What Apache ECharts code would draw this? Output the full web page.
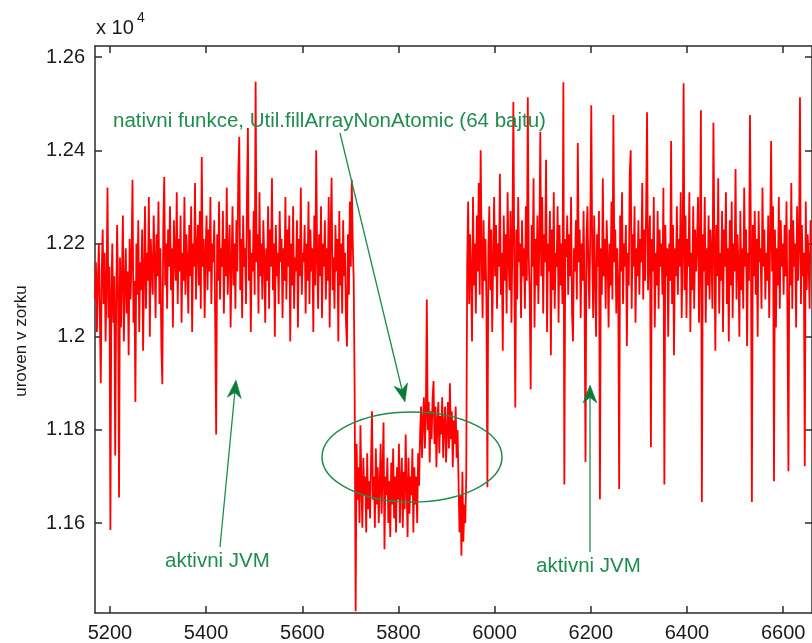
<!DOCTYPE html>
<html>
<head>
<meta charset="utf-8">
<script src="https://cdn.jsdelivr.net/npm/echarts@6/dist/echarts.min.js"></script>
<style>
html,body{margin:0;padding:0;background:#fff;}
#chart{width:812px;height:643px;}
</style>
</head>
<body>
<div id="chart"></div>
<script>
// sample positions: first sample and spacing along the x axis
const xStart = 5169;
const xStep = 2;

// JVM active, before the native call
const jvmBefore = [
 12080,12160,12010,12120,12200,12050,11900,12140,12230,12070,12180,11990,12110,12320,12040,
 12150,11585,12090,12200,12030,12130,11745,12060,12240,12100,11655,12170,12020,12130,12260,
 11990,12110,12190,12050,12140,11960,12210,12080,12170,12337,12030,12120,11860,12200,12090,
 12250,12010,12160,12100,12230,11970,12140,12280,12060,12180,12120,12300,12000,12210,12150,
 12090,12260,12170,12040,12220,12130,12290,12070,12190,11980,11898,12240,12343,12110,12200,
 12060,12230,12150,12280,12100,12190,12020,12250,12170,12120,12310,12070,12210,12140,12260,
 12030,12180,12120,12300,12090,12220,12160,12050,12240,12130,12280,12010,12200,12150,12330,
 12080,12190,12240,12110,12270,12060,12386,12150,12210,12040,12180,12260,12100,12230,12140,
 12300,12070,12200,12160,12250,12030,11790,12220,12120,12290,12080,12190,12150,12270,12050,
 12210,12130,12320,12090,12180,12240,12020,12160,12280,12110,12200,12060,12250,12140,12350,
 12429,12100,12210,12040,12260,12150,12190,12070,12300,12448,12120,12230,12010,12180,12140,
 12270,12090,12547,12160,12220,12050,12310,12130,12200,12080,12250,12170,12030,12190,12120,
 12280,12060,12230,12150,12340,12100,12200,12000,12240,12130,12180,12070,12270,12160,12210,
 12040,12190,12120,12300,12080,12230,12150,12260,11990,12200,12110,12280,12060,12170,12140,
 12250,12020,12210,12130,12320,12090,12180,12160,12240,12050,12200,12120,12290,12070,12230,
 12140,12190,12010,12260,12110,12400,12170,12060,12220,12130,12280,12040,12200,12150,12250,
 12080,12190,12120,12300,12020,12230,12341,12100,12170,12060,12240,12140,12210,11990,12270,
 12110,12200,12050,12250,12130,12180,12030,11979,12220,12090,12290,12150,12337,12200,12120
];
// native function, first (low) part
const nativeLow = [
 11880,11411,11770,11650,11720,11600,11810,11680,11590,11740,11660,11700,11580,11750,11630,
 11690,11610,11730,11840,11650,11700,11590,11760,11640,11720,11600,11680,11770,11620,11710,
 11816,11544,11700,11660,11740,11600,11690,11570,11730,11640,11760,11610,11700,11580,11720,
 11650,11770,11600,11690,11740,11590,11710,11630,11790,11680,11570,11740,11620,11700,11660,
 11760,11580,11720,11640,11700,11600,11750,11680
];
// native function, second (higher) part
const nativeHigh = [
 11790,11850,11740,11820,11870,11760,11830,12080,11800,11860,11730,11840,11780,11870,11905,
 11770,11850,11720,11820,11860,11750,11830,11790,11870,11740,11810,11850,11730,11800,11860,
 11760,11900,11780,11840,11720,11820,11770,11850,11740,11800
];
// short dip at the end of the native call
const nativeDip = [11690,11580,11660,11530,11710,11560,11640,11600,11700];
// JVM active again
const jvmAfter = [
 12160,12290,12070,12220,12130,11990,12300,12110,12200,12050,12260,12140,12330,12090,12400,
 12180,12040,12250,12120,12210,12070,11677,12190,12280,12100,12230,12010,12160,12300,12130,
 12240,12060,12200,12150,12350,12090,12180,11970,12260,12120,12220,12050,12310,12170,12100,
 12270,12030,12210,12504,12140,11848,12230,12080,12300,12160,12200,12040,12250,12130,12190,
 12060,12280,12120,12514,12170,12090,11887,12240,12150,12340,12020,12210,12110,12260,12070,
 12190,12440,12130,12300,12050,12220,12160,12380,12010,12200,12140,12270,11960,12230,12100,
 12310,12060,12180,12150,12280,12030,12240,12110,12200,12070,12546,11683,12210,12170,12260,
 12090,12220,12130,12300,12050,11990,12190,12140,12250,12080,12416,12160,12230,12040,12200,
 12120,12270,12100,11731,12210,12280,12150,12060,12230,12497,12180,12040,12260,12130,12000,
 12220,12150,12270,11651,12190,12090,12340,12130,12210,12060,12250,12170,12020,12200,12110,
 12290,12080,12476,12160,12230,12050,12190,12120,11673,12260,12140,12310,12070,12200,12150,
 12240,11980,12180,12110,12350,12400,12060,12220,12150,12280,12030,12190,12130,12250,12090,
 12210,12160,12330,12080,12230,12120,12270,12482,12100,12190,12260,11763,12210,12140,12300,
 12020,12180,12110,12270,12060,12230,12150,12200,12090,12320,11683,12240,12130,12190,12000,
 12200,12120,12420,12070,12240,11960,12190,12130,12280,12090,12210,12150,12310,12040,12180,
 12544,12100,12260,12040,12210,12150,12310,12010,12180,12100,12280,12060,12230,12140,12200,
 12300,12030,12190,12486,11645,12220,12140,12300,12030,12190,12110,12260,12080,12230,12170,
 12060,12459,12200,11970,12240,12130,12340,12050,12180,12120,12270,12010,12230,12150,12310,
 12070,12190,11990,12250,12110,12290,12040,12200,12140,12360,12080,12220,12160,12000,12270,
 12100,12190,12060,12320,12150,12230,11980,12180,12120,12476,12210,11645,12240,12130,12270,
 12090,12210,12000,12270,12160,12190,12060,12320,12150,12230,12080,12180,12120,12260,12040,
 12210,12420,12140,12280,11690,12230,12020,12190,12110,12300,12060,12250,12150,12200,12090,
 12240,12130,12290,12040,11711,12230,12110,12330,12060,12250,12150,12200,12020,12280,12120,
 12190,12514,12070,12240,12130,12180,11722,12290,12100,12220,12160,12060,12250
];

const xTicks = [5200,5400,5600,5800,6000,6200,6400,6600];
const yTicks = [11600,11800,12000,12200,12400,12600];
const xRange = [5169, 6660];
const yRange = [11407, 12624];

const values = [].concat(jvmBefore, nativeLow, nativeHigh, nativeDip, jvmAfter);
const seriesData = values.map((v, i) => [xStart + i * xStep, v]);

const FONT = '"Liberation Sans", Arial, sans-serif';
const AXC = '#2b2b2b';
const GREEN = '#1f8c4f';
const GREEN_D = '#0b7a3b';

function axisCommon(showLabels, ticks, fmt) {
  return {
    axisLine: { show: true, lineStyle: { color: AXC, width: 1.5 } },
    axisTick: { show: true, inside: true, length: 7, customValues: ticks, lineStyle: { color: AXC, width: 1.5 } },
    axisLabel: showLabels ? { show: true, customValues: ticks, color: '#1a1a1a', fontFamily: FONT, fontSize: 20, margin: 10, formatter: fmt } : { show: false },
    splitLine: { show: false }
  };
}

function arrow(tail, tip, len, half) {
  const dx = tip[0] - tail[0], dy = tip[1] - tail[1];
  const L = Math.hypot(dx, dy), ux = dx / L, uy = dy / L;
  const bx = tip[0] - ux * len, by = tip[1] - uy * len;
  const nx = tip[0] - ux * len * 0.7, ny = tip[1] - uy * len * 0.7;
  return [
    { type: 'line', shape: { x1: tail[0], y1: tail[1], x2: nx, y2: ny }, style: { stroke: GREEN, lineWidth: 1.3 }, z: 100 },
    { type: 'polygon', shape: { points: [tip, [bx - uy * half, by + ux * half], [nx, ny], [bx + uy * half, by - ux * half]] }, style: { fill: GREEN_D, stroke: GREEN_D, lineWidth: 0.5 }, z: 101 }
  ];
}

const chart = echarts.init(document.getElementById('chart'), null, { renderer: 'canvas' });
const graphics = [
  { type: 'text', x: 96, y: 28, style: { text: 'x 10', font: '20px ' + FONT, fill: '#1a1a1a', textVerticalAlign: 'middle' } },
  { type: 'text', x: 137, y: 18, style: { text: '4', font: '14px ' + FONT, fill: '#1a1a1a', textVerticalAlign: 'middle' } },
  { type: 'text', x: 21, y: 341, rotation: Math.PI / 2, style: { text: 'uroven v zorku', font: '17px ' + FONT, fill: '#1a1a1a', textAlign: 'center', textVerticalAlign: 'middle' } },
  { type: 'text', x: 113, y: 121, style: { text: 'nativni funkce, Util.fillArrayNonAtomic (64 bajtu)', font: '20.5px ' + FONT, fill: GREEN, textVerticalAlign: 'middle' }, z: 100 },
  { type: 'text', x: 165, y: 561, style: { text: 'aktivni JVM', font: '20.5px ' + FONT, fill: GREEN, textVerticalAlign: 'middle' }, z: 100 },
  { type: 'text', x: 536, y: 566, style: { text: 'aktivni JVM', font: '20.5px ' + FONT, fill: GREEN, textVerticalAlign: 'middle' }, z: 100 },
  { type: 'ellipse', shape: { cx: 412, cy: 457, rx: 90, ry: 45 }, style: { fill: 'none', stroke: GREEN, lineWidth: 1.5 }, z: 100 }
].concat(
  arrow([340, 133], [405, 402], 18, 7),
  arrow([220, 547], [236, 380], 18, 7),
  arrow([590, 552], [590, 385], 18, 7)
);

const xFmt = v => String(v);
const yFmt = v => String(parseFloat((v / 10000).toFixed(2)));

chart.setOption({
  animation: false,
  backgroundColor: '#ffffff',
  grid: { left: 95, right: 0, top: 46, bottom: 29, containLabel: false },
  xAxis: [
    Object.assign({ type: 'value', position: 'bottom', min: xRange[0], max: xRange[1] }, axisCommon(true, xTicks, xFmt)),
    Object.assign({ type: 'value', position: 'top', min: xRange[0], max: xRange[1] }, axisCommon(false, xTicks))
  ],
  yAxis: [
    Object.assign({ type: 'value', position: 'left', min: yRange[0], max: yRange[1] }, axisCommon(true, yTicks, yFmt)),
    Object.assign({ type: 'value', position: 'right', min: yRange[0], max: yRange[1] }, axisCommon(false, yTicks))
  ],
  graphic: graphics,
  series: [{
    type: 'line',
    data: seriesData,
    xAxisIndex: 0,
    yAxisIndex: 0,
    showSymbol: false,
    symbol: 'none',
    sampling: null,
    lineStyle: { color: '#ff0000', width: 1.8 },
    clip: true
  }]
});
</script>
</body>
</html>
